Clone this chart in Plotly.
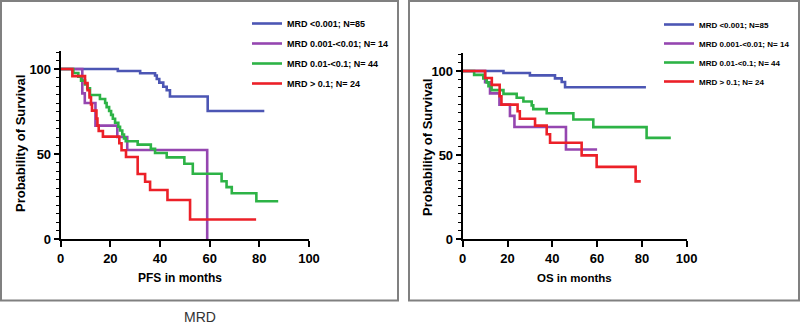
import plotly.graph_objects as go

W, H = 800, 325

# ---------------- data ----------------
series_names = ["MRD <0.001; N=85", "MRD 0.001-<0.01; N= 14",
                "MRD 0.01-<0.1; N= 44", "MRD > 0.1; N= 24"]
series_colors = ["#4c56b4", "#9546b0", "#2db346", "#ec2028"]

# PFS panel
pfs_blue_t = [0, 23, 32, 38, 38.7, 39.7, 41.3, 42.7, 44, 59.2, 82]
pfs_blue_s = [100, 98.8, 97.5, 96.2, 94.1, 92.0, 89.6, 87.5, 83.8, 75.3, 75.3]

pfs_purple_t = [0, 8.7, 9.7, 14, 22.8, 26.8, 59]
pfs_purple_s = [100, 85.7, 80, 66.7, 60, 52.4, 0]

pfs_green_t = [0, 5.1, 7.1, 8.2, 9.8, 10.7, 11.8, 15.8, 17.9, 18.5, 19.5, 20.3, 21,
               21.9, 23.2, 23.9, 24.8, 25.5, 26.2, 31, 36.3, 38, 42.7, 49.8, 53.2,
               64.8, 66.8, 68.9, 78.8, 87.6]
pfs_green_s = [100, 97.7, 95.5, 93.2, 90.9, 88.6, 84.7, 82.4, 80, 77.6, 75.3, 73, 70.7,
               68.4, 66, 63.8, 61.5, 59.2, 57.5, 55.5, 53, 50.6, 48, 44.3, 38.4,
               34, 30.5, 26.9, 22.2, 22.2]

pfs_red_t = [0, 4.7, 9.8, 10.8, 11.6, 12.2, 12.6, 14.4, 14.8, 15.3, 17, 23.6, 24.5,
             26.3, 31, 34, 36, 43, 52.1, 78.7]
pfs_red_s = [100, 95.8, 91.7, 87.5, 83.3, 79.2, 75.5, 70.8, 66.7, 63.5, 60.2, 56.3, 52.2,
             48.2, 38.2, 33.7, 28.8, 22.9, 11.5, 11.5]

# OS panel
os_blue_t = [0, 18.2, 30, 41.2, 44.2, 45.7, 81.8]
os_blue_s = [100, 98.8, 97.4, 95.6, 93.4, 90.3, 90.3]

os_purple_t = [0, 10, 12.2, 16.4, 21.1, 23.1, 46.1, 60]
os_purple_s = [100, 93.3, 86.7, 80, 73.3, 66.7, 53.3, 53.3]

os_green_t = [0, 5.1, 9.2, 10.7, 11.5, 12.9, 18.2, 24.1, 27.1, 30.8, 31.5, 37.5, 49.4,
              58.3, 82.1, 92.9]
os_green_s = [100, 97.7, 95.5, 93.2, 90.9, 88.6, 86.4, 84.1, 81.8, 79.5, 77.3, 74.8, 71.1,
              66.6, 60.2, 60.2]

os_red_t = [0, 10, 13, 16.5, 17.3, 24.5, 25.5, 32.3, 37.5, 39, 53.1, 59.8, 77.2, 79.5]
os_red_s = [100, 95.8, 91.7, 85, 80, 76, 71.6, 67.5, 62.3, 57.3, 49.8, 42.9, 34.3, 34.3]

x_ticks = [0, 20, 40, 60, 80, 100]
y_ticks = [0, 50, 100]
x_titles = ["PFS in months", "OS in months"]
y_title = "Probability of Survival"
caption = "MRD"

# ---------------- figure ----------------
FONT = "Liberation Sans, Arial, sans-serif"
fig = go.Figure()

pfs = [(pfs_blue_t, pfs_blue_s), (pfs_purple_t, pfs_purple_s),
       (pfs_green_t, pfs_green_s), (pfs_red_t, pfs_red_s)]
oss = [(os_blue_t, os_blue_s), (os_purple_t, os_purple_s),
       (os_green_t, os_green_s), (os_red_t, os_red_s)]

for i, (t, s) in enumerate(pfs):
    fig.add_trace(go.Scatter(x=t, y=s, mode="lines", line=dict(color=series_colors[i], width=2.6, shape="hv"),
                             name=series_names[i], legend="legend", legendgroup="a%d" % i,
                             xaxis="x", yaxis="y"))
for i, (t, s) in enumerate(oss):
    fig.add_trace(go.Scatter(x=t, y=s, mode="lines", line=dict(color=series_colors[i], width=2.6, shape="hv"),
                             name=series_names[i], legend="legend2", legendgroup="b%d" % i,
                             xaxis="x2", yaxis="y2"))

def px_x(p):
    return p / W

def px_y(p):
    return 1 - p / H

axis_common = dict(showline=True, linecolor="black", linewidth=2, ticks="outside",
                   tickcolor="black", tickwidth=1.5, showgrid=False, zeroline=False,
                   automargin=False,
                   tickfont=dict(family=FONT, size=13, color="black", weight="bold"))

fig.update_layout(
    width=W, height=H, margin=dict(l=0, r=0, t=0, b=0, autoexpand=False),
    paper_bgcolor="white", plot_bgcolor="white", showlegend=True,
    xaxis=dict(domain=[px_x(60.7), px_x(309)], range=[0, 100], tickvals=x_ticks, ticklen=6,
               anchor="y", **axis_common),
    yaxis=dict(domain=[px_y(239), px_y(51)], range=[0, 110.6], tickvals=y_ticks, ticklen=5,
               minor=dict(dtick=5, ticklen=3, tickwidth=1.3, tickcolor="black", ticks="outside"),
               anchor="x", **axis_common),
    xaxis2=dict(domain=[px_x(462.7), px_x(686.7)], range=[0, 100], tickvals=x_ticks, ticklen=6,
                anchor="y2", **axis_common),
    yaxis2=dict(domain=[px_y(239), px_y(53)], range=[0, 110.7], tickvals=y_ticks, ticklen=5,
                minor=dict(dtick=5, ticklen=3, tickwidth=1.3, tickcolor="black", ticks="outside"),
                anchor="x2", **axis_common),
    legend=dict(x=px_x(247), y=px_y(9), xanchor="left", yanchor="top", bgcolor="rgba(0,0,0,0)",
                font=dict(family=FONT, size=9, color="black", weight="bold"), tracegroupgap=1,
                itemclick=False),
    legend2=dict(x=px_x(659), y=px_y(10), xanchor="left", yanchor="top", bgcolor="rgba(0,0,0,0)",
                 font=dict(family=FONT, size=8, color="black", weight="bold"), tracegroupgap=0,
                 itemclick=False),
)

# panel frames
fig.add_shape(type="rect", xref="paper", yref="paper", x0=px_x(1), x1=px_x(398), y0=px_y(300.5), y1=px_y(1),
              line=dict(color="#808080", width=2), layer="below")
fig.add_shape(type="rect", xref="paper", yref="paper", x0=px_x(409), x1=px_x(799), y0=px_y(300.5), y1=px_y(1),
              line=dict(color="#808080", width=2), layer="below")

title_font = dict(family=FONT, size=12, color="black", weight="bold")
fig.add_annotation(xref="paper", yref="paper", x=px_x(180), y=px_y(278), text=x_titles[0],
                   showarrow=False, font=title_font, xanchor="center", yanchor="middle")
fig.add_annotation(xref="paper", yref="paper", x=px_x(574), y=px_y(278), text=x_titles[1],
                   showarrow=False, font=dict(family=FONT, size=11.5, color="black", weight="bold"),
                   xanchor="center", yanchor="middle")
fig.add_annotation(xref="paper", yref="paper", x=px_x(20), y=px_y(144), text=y_title, textangle=-90,
                   showarrow=False, font=dict(family=FONT, size=13, color="black", weight="bold"),
                   xanchor="center", yanchor="middle")
fig.add_annotation(xref="paper", yref="paper", x=px_x(427), y=px_y(147), text=y_title, textangle=-90,
                   showarrow=False, font=dict(family=FONT, size=13, color="black", weight="bold"),
                   xanchor="center", yanchor="middle")
fig.add_annotation(xref="paper", yref="paper", x=px_x(200), y=px_y(317), text=caption,
                   showarrow=False, font=dict(family=FONT, size=14, color="#333333"),
                   xanchor="center", yanchor="middle")

fig.write_html("out.html")
